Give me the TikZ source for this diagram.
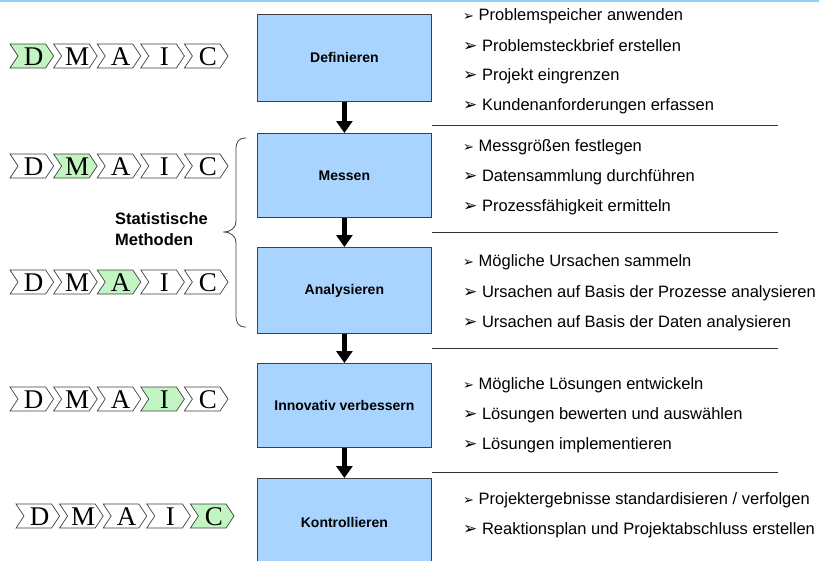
\documentclass[tikz,border=0pt]{standalone}
\usepackage{fontspec}
\setmainfont{Liberation Sans}
\newfontfamily\serifL{Liberation Serif}
\newfontfamily\dejavu{DejaVu Sans}
\usetikzlibrary{arrows.meta}
\definecolor{boxblue}{HTML}{A9D4FF}
\definecolor{chevgreen}{HTML}{C2F5C2}
\definecolor{topline}{HTML}{8CD2F5}
\newcommand\bigbul{{\dejavu\fontsize{17}{17}\selectfont ➢}}
\newcommand\smallbul{{\dejavu\fontsize{13}{13}\selectfont ➢}}
\newcommand\dmaicrow[4]{% #1 x0, #2 y, #3 highlighted index, #4 row name
  \foreach \L [count=\i] in {D,M,A,I,C}{%
    \pgfmathsetmacro\xa{#1+(\i-1)*43.6}%
    \ifnum\i=#3\def\chevfill{chevgreen}\else\def\chevfill{white}\fi
    \draw[chevline, fill=\chevfill]
      (\xa,#2-12) -- ({\xa+35.6},#2-12) -- ({\xa+43.6},#2) -- ({\xa+35.6},#2+12)
      -- (\xa,#2+12) -- ({\xa+8},#2) -- cycle;
    \node[chevletter] (#4\L) at ({\xa+23.5},#2+1) {\L};
  }%
}
\begin{document}
\begin{tikzpicture}[x=1pt,y=-1pt,
  phasebox/.style={draw=black!75, line width=0.8pt, fill=boxblue,
    minimum width=174pt, minimum height=#1, anchor=north west, inner sep=0pt,
    font=\fontsize{14}{16}\selectfont\bfseries},
  item/.style={anchor=west, inner sep=0pt, font=\fontsize{16.5}{20}\selectfont},
  flowarrow/.style={line width=5pt, -{Triangle[width=16pt,length=12pt]}},
  sepline/.style={draw=black!80, line width=1pt},
  chevline/.style={draw=black!75, line width=0.7pt, line join=miter},
  chevletter/.style={inner sep=0pt, font=\serifL\fontsize{27}{27}\selectfont},
  grouplabel/.style={anchor=west, inner sep=0pt, align=left,
    font=\fontsize{16.5}{21}\selectfont\bfseries}
]
\useasboundingbox (0,0) rectangle (819,560);
\fill[topline] (0,0) rectangle (819,2);

% phase boxes
\node[phasebox=87pt] (def) at (257,14) {Definieren};
\node[phasebox=84pt] (mes) at (257,133) {Messen};
\node[phasebox=86pt] (ana) at (257,247) {Analysieren};
\node[phasebox=84pt] (inn) at (257,363) {Innovativ verbessern};
\node[phasebox=88pt] (kon) at (257,478) {Kontrollieren};

\draw[flowarrow] (def.south) -- (mes.north);
\draw[flowarrow] (mes.south) -- (ana.north);
\draw[flowarrow] (ana.south) -- (inn.north);
\draw[flowarrow] (inn.south) -- (kon.north);

% separators
\draw[sepline] (432,125) -- (778,125);
\draw[sepline] (432,232) -- (778,232);
\draw[sepline] (432,348) -- (778,348);
\draw[sepline] (432,472) -- (778,472);

% items
\node[item] (d1) at (463,16) {\smallbul\ Problemspeicher anwenden};
\node[item] (d2) at (463,46) {\bigbul\ Problemsteckbrief erstellen};
\node[item] (d3) at (463,76) {\bigbul\ Projekt eingrenzen};
\node[item] (d4) at (463,106) {\bigbul\ Kundenanforderungen erfassen};

\node[item] (m1) at (463,147) {\smallbul\ Messgrößen festlegen};
\node[item] (m2) at (463,177) {\bigbul\ Datensammlung durchführen};
\node[item] (m3) at (463,207) {\bigbul\ Prozessfähigkeit ermitteln};

\node[item] (a1) at (463,262) {\smallbul\ Mögliche Ursachen sammeln};
\node[item] (a2) at (463,293) {\bigbul\ Ursachen auf Basis der Prozesse analysieren};
\node[item] (a3) at (463,323) {\bigbul\ Ursachen auf Basis der Daten analysieren};

\node[item] (i1) at (463,385) {\smallbul\ Mögliche Lösungen entwickeln};
\node[item] (i2) at (463,415) {\bigbul\ Lösungen bewerten und auswählen};
\node[item] (i3) at (463,445) {\bigbul\ Lösungen implementieren};

\node[item] (k1) at (463,500) {\smallbul\ Projektergebnisse standardisieren / verfolgen};
\node[item] (k2) at (463,530) {\bigbul\ Reaktionsplan und Projektabschluss erstellen};

% DMAIC rows
\dmaicrow{10}{56}{1}{rd}
\dmaicrow{10}{166}{2}{rm}
\dmaicrow{10}{282}{3}{ra}
\dmaicrow{10}{399}{4}{ri}
\dmaicrow{16}{516}{5}{rc}

% brace and group label
\draw[line width=0.8pt, draw=black!75]
  (246,138) .. controls (238,138) and (236,142) .. (236,150) -- (236,221)
  .. controls (236,228) and (231,232) .. (223,232)
  .. controls (231,232) and (236,236) .. (236,243) -- (236,315)
  .. controls (236,323) and (238,327) .. (246,327);
\node[grouplabel] (stat) at (115,229) {Statistische\\Methoden};
\end{tikzpicture}
\end{document}
